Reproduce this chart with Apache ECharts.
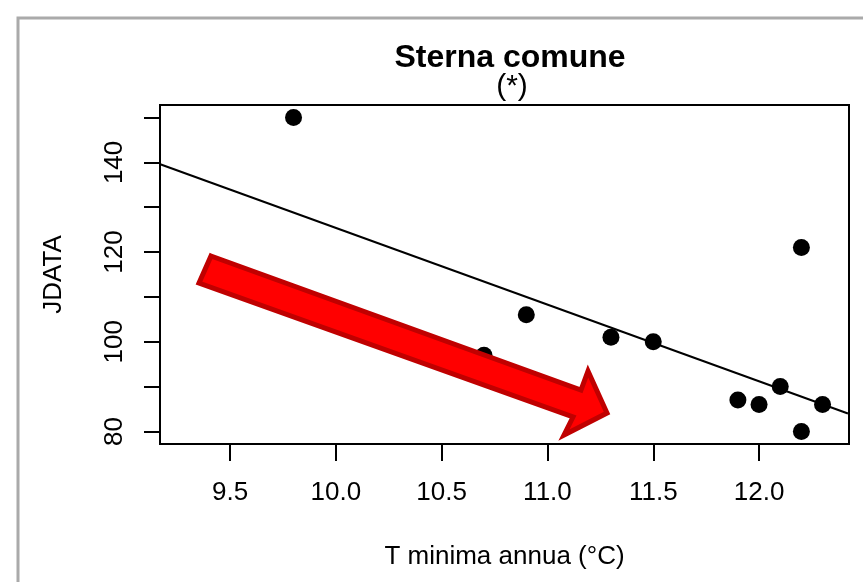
<!DOCTYPE html>
<html>
<head>
<meta charset="utf-8">
<script src="https://cdn.jsdelivr.net/npm/echarts@6/dist/echarts.min.js"></script>
<style>
  html, body { margin: 0; padding: 0; background: #fff; }
  #chart { width: 863px; height: 582px; }
</style>
</head>
<body>
<div id="chart"></div>
<script>
  // values
  const tempMin = [9.8, 10.7, 10.9, 11.3, 11.5, 11.9, 12.0, 12.1, 12.2, 12.2, 12.3];
  const jdata = [150, 97, 106, 101, 100, 87, 86, 90, 121, 80, 86];
  // fitted line, endpoints at the box edges
  const fitX = [9.17, 12.42];
  const fitY = [139.6, 84.0];
  const xTicks = [9.5, 10.0, 10.5, 11.0, 11.5, 12.0];
  const yTicks = [80, 90, 100, 110, 120, 130, 140, 150];
  const yLabels = [80, 100, 120, 140];

  const font = "'Liberation Sans', Arial, Helvetica, sans-serif";

  const chart = echarts.init(document.getElementById('chart'), null, { renderer: 'canvas' });

  chart.setOption({
    backgroundColor: '#fff',
    animation: false,
    title: [
      {
        text: 'Sterna comune',
        left: 505,
        top: 37,
        textAlign: 'center',
        textStyle: { fontFamily: font, fontSize: 32, fontWeight: 'bold', color: '#000' },
      },
      {
        text: '(*)',
        left: 507,
        top: 67,
        textAlign: 'center',
        textStyle: { fontFamily: font, fontSize: 30, fontWeight: 'normal', color: '#000' },
      },
    ],
    grid: {
      left: 160,
      top: 105,
      width: 689,
      height: 339,
      show: true,
      borderColor: '#000',
      borderWidth: 2,
      backgroundColor: '#fff',
    },
    xAxis: {
      type: 'value',
      min: 9.169,
      max: 12.425,
      splitLine: { show: false },
      axisLine: { show: false },
      axisTick: {
        show: true,
        inside: false,
        length: 17,
        customValues: xTicks,
        lineStyle: { color: '#000', width: 2 },
      },
      axisLabel: {
        customValues: xTicks,
        formatter: (v) => v.toFixed(1),
        margin: 36,
        fontFamily: font,
        fontSize: 26,
        color: '#000',
      },
      name: 'T minima annua (°C)',
      nameLocation: 'middle',
      nameGap: 100,
      nameTextStyle: { fontFamily: font, fontSize: 26, color: '#000' },
    },
    yAxis: {
      type: 'value',
      min: 77.2,
      max: 152.8,
      splitLine: { show: false },
      axisLine: { show: false },
      axisTick: {
        show: true,
        inside: false,
        length: 16,
        customValues: yTicks,
        lineStyle: { color: '#000', width: 2 },
      },
      axisLabel: {
        customValues: yLabels,
        rotate: 90,
        margin: 32,
        fontFamily: font,
        fontSize: 26,
        color: '#000',
      },
      name: 'JDATA',
      nameLocation: 'middle',
      nameGap: 93,
      nameTextStyle: { fontFamily: font, fontSize: 26, color: '#000' },
    },
    series: [
      {
        name: 'fit',
        type: 'line',
        data: fitX.map((x, i) => [x, fitY[i]]),
        showSymbol: false,
        symbol: 'none',
        clip: true,
        lineStyle: { color: '#000', width: 2 },
        z: 2,
      },
      {
        name: 'obs',
        type: 'scatter',
        data: tempMin.map((x, i) => [x, jdata[i]]),
        symbol: 'circle',
        symbolSize: 17,
        itemStyle: { color: '#000', opacity: 1 },
        z: 3,
      },
    ],
    graphic: [
      // grey frame of the original slide
      {
        type: 'polyline',
        shape: { points: [[18, 582], [18, 18], [863, 18]] },
        style: { stroke: '#aaaaaa', lineWidth: 3, fill: null },
        z: 50,
      },
      // red arrow overlay
      {
        type: 'polygon',
        shape: {
          points: [[211, 256], [581, 390], [588, 371], [607, 413], [564, 435], [573, 417], [199, 283]],
        },
        style: { fill: '#ff0000', stroke: '#c00000', lineWidth: 5, lineJoin: 'miter' },
        z: 100,
      },
    ],
  });
</script>
</body>
</html>
